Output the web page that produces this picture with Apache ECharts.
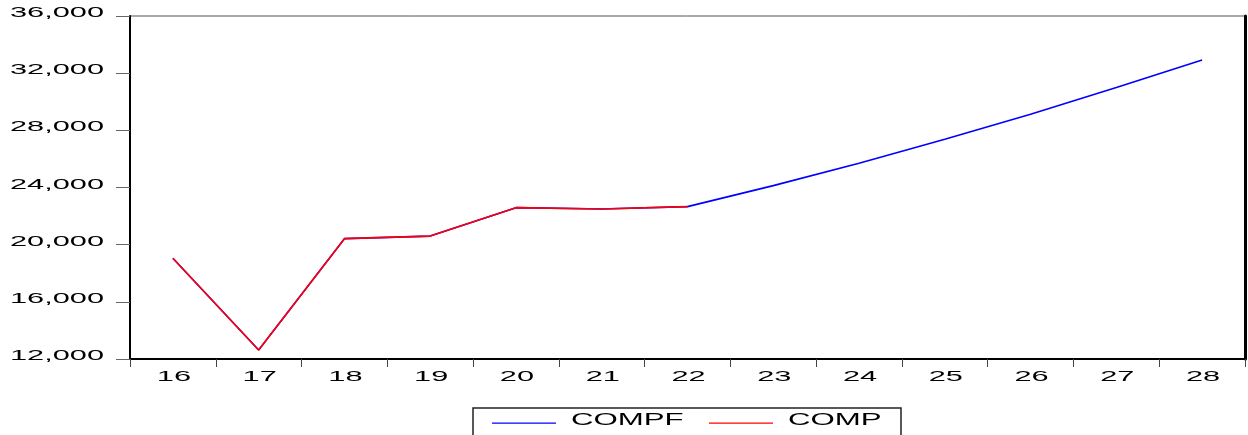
<!DOCTYPE html>
<html>
<head>
<meta charset="utf-8">
<script src="https://cdn.jsdelivr.net/npm/echarts@6/dist/echarts.min.js"></script>
<style>
  html, body { margin: 0; padding: 0; background: #fff; }
  #c { width: 1248px; height: 435px; }
</style>
</head>
<body>
<div id="c"></div>
<script>
// ---- data ----
const years = ['16', '17', '18', '19', '20', '21', '22', '23', '24', '25', '26', '27', '28'];
const compf = [19050, 12630, 20420, 20600, 22590, 22500, 22660, 24130, 25700, 27380, 29120, 31000, 32920];
const comp  = [19050, 12630, 20420, 20600, 22590, 22500, 22660, null, null, null, null, null, null];
const yTicks = [12000, 16000, 20000, 24000, 28000, 32000, 36000];
const seriesNames = ['COMPF', 'COMP'];
const seriesColors = ['#0000ff', '#ff0000'];

// ---- layout / style ----
const FONT_AXIS = '15px "Liberation Sans", Arial, sans-serif';
const FONT_LEG = '16px "Liberation Sans", Arial, sans-serif';
const STRETCH_AXIS = 2.05;
const STRETCH_LEG = 1.95;

const chart = echarts.init(document.getElementById('c'), null, { renderer: 'canvas' });

chart.setOption({
  animation: false,
  backgroundColor: '#fff',
  grid: { left: 130, right: 3, top: 16, bottom: 76, show: true, borderColor: '#555', borderWidth: 1 },
  xAxis: {
    type: 'category',
    data: years,
    boundaryGap: true,
    axisLine: { show: true, lineStyle: { color: '#000', width: 2 } },
    axisTick: { show: true, length: 8, lineStyle: { color: '#444', width: 1 } },
    axisLabel: { show: false },
    splitLine: { show: false }
  },
  yAxis: [
    {
      type: 'value', min: 12000, max: 36000, interval: 4000,
      axisLine: { show: true, lineStyle: { color: '#000', width: 2 } },
      axisTick: { show: true, length: 14, lineStyle: { color: '#666', width: 1 } },
      axisLabel: { show: false },
      splitLine: { show: false }
    },
    {
      type: 'value', position: 'right', min: 12000, max: 36000, interval: 4000,
      axisLine: { show: true, lineStyle: { color: '#000', width: 3 } },
      axisTick: { show: false },
      axisLabel: { show: false },
      splitLine: { show: false }
    }
  ],
  series: [
    {
      name: seriesNames[0], type: 'line', data: compf, showSymbol: false,
      lineStyle: { color: seriesColors[0], width: 1.6 }, itemStyle: { color: seriesColors[0] }
    },
    {
      name: seriesNames[1], type: 'line', data: comp, showSymbol: false, connectNulls: false,
      lineStyle: { color: seriesColors[1], width: 1.6 }, itemStyle: { color: seriesColors[1] }
    }
  ]
});

// ---- stretched tick labels and legend (real text, placed through the axes) ----
const fmt = v => v.toLocaleString('en-US');
const g = [];

yTicks.forEach(v => {
  const py = chart.convertToPixel({ yAxisIndex: 0 }, v);
  g.push({
    type: 'text', x: 104, y: py - 3, scaleX: STRETCH_AXIS, silent: true,
    style: { text: fmt(v), font: FONT_AXIS, fill: '#000', textAlign: 'right', textVerticalAlign: 'middle', verticalAlign: 'middle' }
  });
});

years.forEach(c => {
  const px = chart.convertToPixel({ xAxisIndex: 0 }, c);
  g.push({
    type: 'text', x: px + 1, y: 377, scaleX: STRETCH_AXIS, silent: true,
    style: { text: c, font: FONT_AXIS, fill: '#000', textAlign: 'center', textVerticalAlign: 'middle', verticalAlign: 'middle' }
  });
});

// legend box
g.push({
  type: 'rect', silent: true,
  shape: { x: 473, y: 408, width: 428, height: 40 },
  style: { fill: '#fff', stroke: '#222', lineWidth: 1.5 }
});
const legItems = [
  { lineX: 492, textX: 571 },
  { lineX: 709, textX: 788 }
];
seriesNames.forEach((n, i) => {
  g.push({
    type: 'rect', silent: true,
    shape: { x: legItems[i].lineX, y: 422.5, width: 64, height: 1.3 },
    style: { fill: seriesColors[i], stroke: null }
  });
  g.push({
    type: 'text', x: legItems[i].textX, y: 421, scaleX: STRETCH_LEG, silent: true,
    style: { text: n, font: FONT_LEG, fill: '#000', textAlign: 'left', textVerticalAlign: 'middle', verticalAlign: 'middle' }
  });
});

chart.setOption({ graphic: g });
</script>
</body>
</html>
